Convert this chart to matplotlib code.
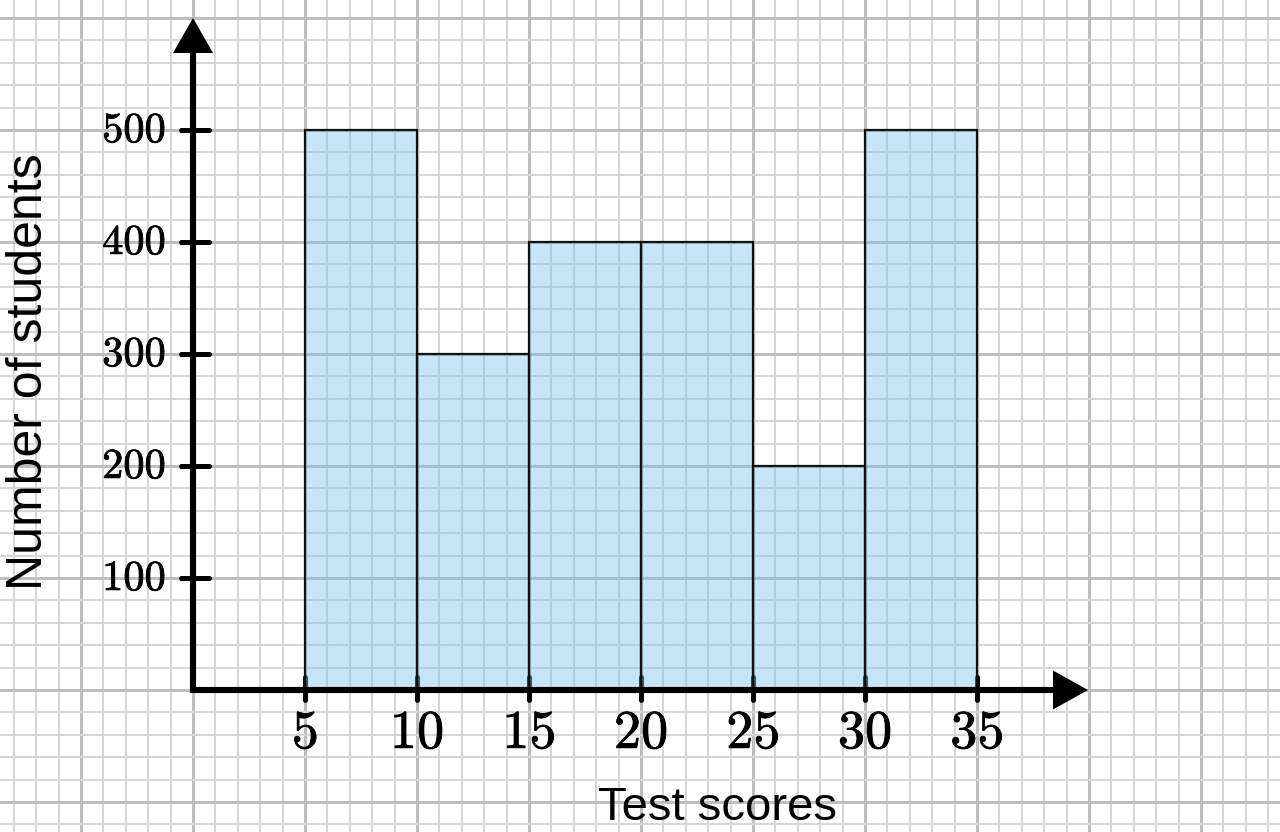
import matplotlib
matplotlib.use("Agg")
import matplotlib.pyplot as plt
import matplotlib.patheffects as pe
import numpy as np

# ---- data ----
bin_edges = [5, 10, 15, 20, 25, 30, 35]
counts = [500, 300, 400, 400, 200, 500]
y_ticks = [100, 200, 300, 400, 500]
x_label = "Test scores"
y_label = "Number of students"

plt.rcParams['mathtext.fontset'] = 'cm'

W, H = 1280, 832
fig = plt.figure(figsize=(W / 100, H / 100), dpi=100)
ax = fig.add_axes([0, 0, 1, 1])

# pixel geometry of the paper grid
ox, oy = 193.0, 690.0          # pixel position of data origin
px_x = 22.4                    # pixels per 1 x unit
px_y = 1.12                    # pixels per 1 y unit
ax.set_xlim(-ox / px_x, (W - ox) / px_x)
ax.set_ylim(-(H - oy) / px_y, oy / px_y)

for s in ax.spines.values():
    s.set_visible(False)
ax.set_xticks(np.arange(-5, 50, 5))
ax.set_xticks(np.arange(-8, 49, 1), minor=True)
ax.set_yticks(np.arange(-100, 700, 100))
ax.set_yticks(np.arange(-120, 620, 20), minor=True)
ax.tick_params(which='both', length=0, labelbottom=False, labelleft=False)
ax.grid(which='minor', color='#d6d6d6', lw=1.5, zorder=0)
ax.grid(which='major', color='#bebebe', lw=2.2, zorder=0)
ax.set_axisbelow(True)

# ticks
xt = bin_edges
for v in xt:
    ax.plot([v, v], [-9, 12], color='black', lw=3.6, solid_capstyle='round', zorder=2)
for v in y_ticks:
    ax.plot([-0.55, 0.7], [v, v], color='black', lw=3.6, solid_capstyle='round', zorder=2)

# bars
widths = np.diff(bin_edges)
ax.bar(bin_edges[:-1], counts, width=widths, align='edge',
       facecolor='#78c4ec', alpha=0.42, edgecolor='none', zorder=3)
ax.bar(bin_edges[:-1], counts, width=widths, align='edge',
       facecolor='none', edgecolor='#111111', lw=1.6, zorder=4)

# axes lines with arrows
y_top_tip = (oy - 18) / px_y
y_top_base = (oy - 53) / px_y
x_tip = (1088 - ox) / px_x
x_base = (1053 - ox) / px_x
ax.plot([0, 0], [-3 / px_y, y_top_base], color='black', lw=4.4, solid_capstyle='butt', zorder=5)
ax.plot([-3 / px_x, x_base], [0, 0], color='black', lw=4.4, solid_capstyle='butt', zorder=5)
hw = 20 / px_x
ax.fill([-hw, hw, 0], [y_top_base, y_top_base, y_top_tip], color='black', zorder=5, lw=0)
hh = 19.5 / px_y
ax.fill([x_base, x_base, x_tip], [-hh, hh, 0], color='black', zorder=5, lw=0)

# tick labels
bold = [pe.withStroke(linewidth=0.6, foreground='black')]
for v in xt:
    ax.text(v, -(733 - oy) / px_y, f'${v}$', fontsize=39, ha='center', va='center',
            zorder=6, path_effects=bold)
for v in y_ticks:
    ax.text(-(193 - 166) / px_x, v, f'${v}$', fontsize=30.5, ha='right', va='center',
            zorder=6, path_effects=bold)

fig.text(717 / W, 1 - 808 / H, x_label, fontsize=34, family='Liberation Sans',
         ha='center', va='center')
fig.text(29 / W, 1 - 372 / H, y_label, fontsize=36, family='Liberation Sans',
         ha='center', va='center', rotation=90)

fig.savefig('out.png', dpi=100)
